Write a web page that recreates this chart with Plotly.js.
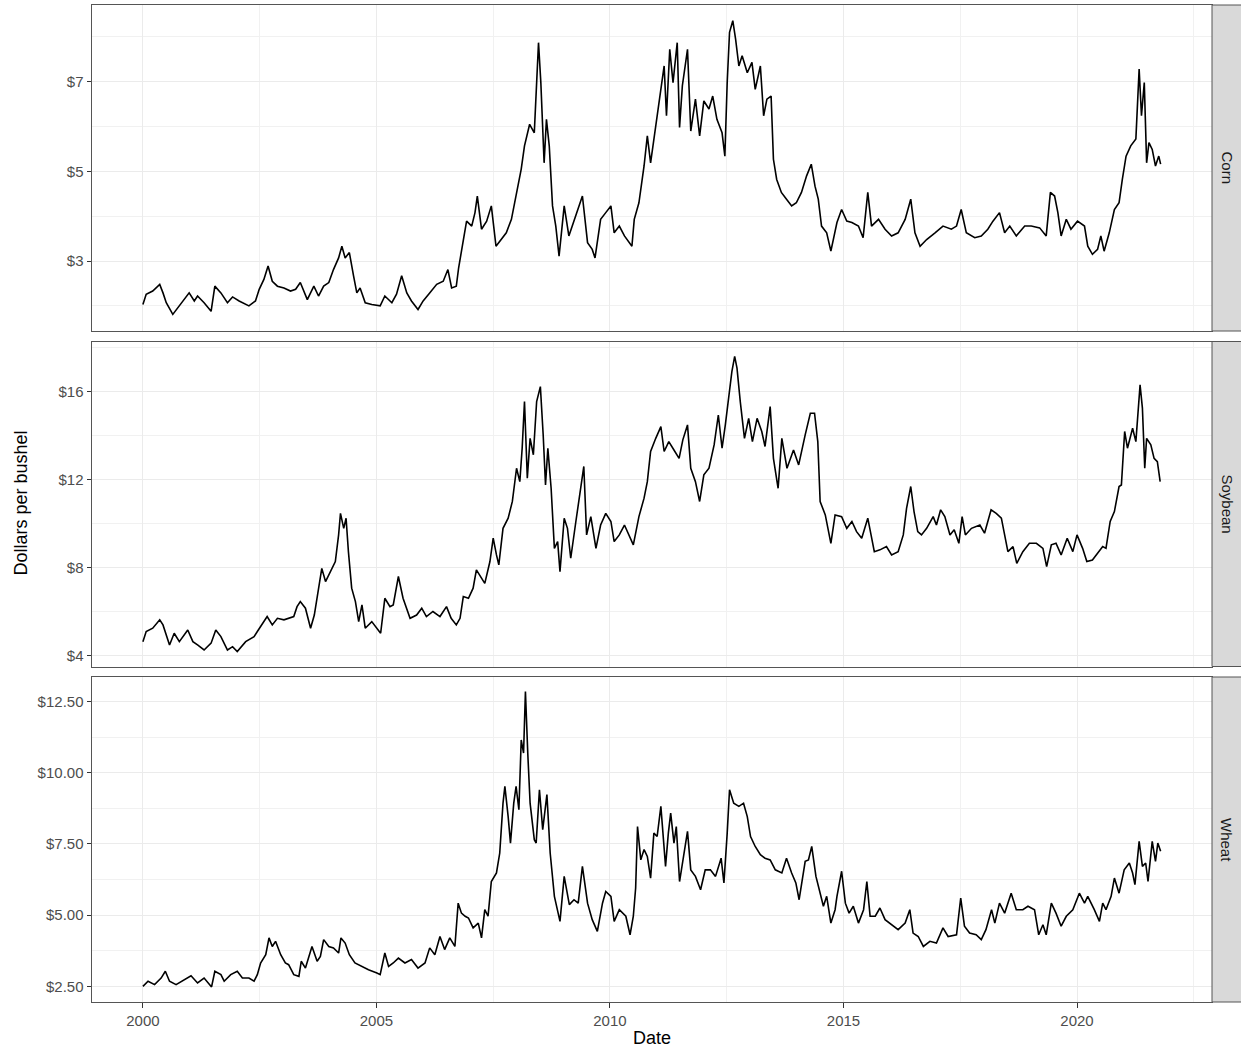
<!DOCTYPE html>
<html>
<head>
<meta charset="utf-8">
<script src="https://cdn.plot.ly/plotly-3.0.1.min.js"></script>
<style>
  html, body { margin: 0; padding: 0; background: #ffffff; }
  #chart { width: 1241px; height: 1051px; }
</style>
</head>
<body>
<div id="chart"></div>
<script>
// ---------------- DATA (decimal years, dollars per bushel) ----------------
const panelNames = ["Corn", "Soybean", "Wheat"];

const cornYears = [2000.00,2000.07,2000.21,2000.36,2000.43,2000.50,2000.64,2000.75,2000.85,2000.99,2001.10,2001.17,2001.31,2001.46,2001.54,2001.67,2001.81,2001.92,2002.06,2002.27,2002.41,2002.49,2002.59,2002.68,2002.77,2002.88,2003.02,2003.16,2003.27,2003.37,2003.52,2003.66,2003.76,2003.87,2003.98,2004.08,2004.19,2004.26,2004.33,2004.42,2004.51,2004.58,2004.65,2004.76,2004.90,2005.08,2005.18,2005.33,2005.43,2005.54,2005.65,2005.75,2005.89,2006.00,2006.14,2006.29,2006.43,2006.53,2006.61,2006.71,2006.76,2006.86,2006.93,2007.04,2007.11,2007.16,2007.25,2007.36,2007.46,2007.56,2007.68,2007.78,2007.89,2008.00,2008.10,2008.17,2008.28,2008.38,2008.43,2008.47,2008.52,2008.59,2008.64,2008.70,2008.77,2008.84,2008.91,2009.02,2009.12,2009.27,2009.41,2009.52,2009.62,2009.68,2009.80,2009.91,2010.02,2010.09,2010.20,2010.31,2010.47,2010.52,2010.62,2010.73,2010.80,2010.87,2010.98,2011.09,2011.16,2011.21,2011.28,2011.35,2011.44,2011.49,2011.55,2011.66,2011.73,2011.83,2011.92,2012.01,2012.12,2012.20,2012.29,2012.40,2012.46,2012.51,2012.56,2012.63,2012.69,2012.76,2012.83,2012.94,2013.04,2013.11,2013.22,2013.29,2013.36,2013.45,2013.50,2013.57,2013.67,2013.78,2013.89,2013.99,2014.10,2014.21,2014.31,2014.39,2014.46,2014.53,2014.64,2014.73,2014.86,2014.96,2015.07,2015.18,2015.32,2015.42,2015.52,2015.60,2015.75,2015.89,2016.03,2016.17,2016.32,2016.44,2016.53,2016.64,2016.78,2016.96,2017.13,2017.31,2017.42,2017.52,2017.63,2017.81,2017.95,2018.09,2018.20,2018.34,2018.45,2018.56,2018.70,2018.88,2019.02,2019.20,2019.34,2019.43,2019.52,2019.59,2019.66,2019.77,2019.87,2020.01,2020.16,2020.23,2020.33,2020.44,2020.51,2020.58,2020.69,2020.80,2020.90,2020.97,2021.05,2021.15,2021.26,2021.33,2021.38,2021.44,2021.49,2021.54,2021.61,2021.68,2021.75,2021.79];
const cornPrice = [2.03,2.26,2.33,2.48,2.29,2.07,1.81,1.96,2.11,2.29,2.11,2.22,2.07,1.88,2.44,2.29,2.07,2.20,2.11,2.00,2.11,2.37,2.59,2.89,2.55,2.44,2.40,2.33,2.37,2.52,2.14,2.44,2.22,2.44,2.52,2.81,3.07,3.33,3.07,3.19,2.67,2.29,2.40,2.07,2.03,2.00,2.22,2.07,2.26,2.67,2.29,2.11,1.92,2.11,2.29,2.48,2.55,2.81,2.40,2.44,2.85,3.48,3.89,3.78,4.08,4.45,3.71,3.89,4.23,3.33,3.48,3.63,3.93,4.53,5.05,5.57,6.05,5.86,6.98,7.87,6.98,5.19,6.16,5.57,4.23,3.78,3.11,4.23,3.56,4.00,4.45,3.41,3.26,3.07,3.93,4.08,4.23,3.63,3.78,3.56,3.33,3.93,4.30,5.12,5.79,5.19,6.01,6.76,7.35,6.24,7.72,6.98,7.87,5.98,6.91,7.72,5.90,6.61,5.79,6.57,6.39,6.68,6.16,5.86,5.34,6.98,8.10,8.36,7.95,7.35,7.58,7.20,7.43,6.83,7.35,6.24,6.61,6.68,5.27,4.82,4.53,4.38,4.23,4.30,4.53,4.90,5.16,4.67,4.38,3.78,3.63,3.22,3.86,4.15,3.89,3.86,3.78,3.52,4.53,3.78,3.93,3.71,3.56,3.63,3.93,4.38,3.63,3.33,3.48,3.63,3.78,3.71,3.78,4.15,3.63,3.52,3.56,3.71,3.89,4.08,3.63,3.78,3.56,3.78,3.78,3.74,3.56,4.53,4.45,4.08,3.56,3.93,3.71,3.89,3.78,3.33,3.15,3.26,3.56,3.22,3.63,4.15,4.30,4.82,5.34,5.57,5.72,7.28,6.24,6.98,5.19,5.64,5.49,5.12,5.34,5.16];

const soyYears = [2000.00,2000.07,2000.21,2000.36,2000.43,2000.57,2000.67,2000.78,2000.96,2001.07,2001.17,2001.31,2001.46,2001.56,2001.67,2001.81,2001.92,2002.02,2002.20,2002.38,2002.45,2002.56,2002.66,2002.77,2002.88,2003.02,2003.23,2003.30,2003.37,2003.48,2003.59,2003.67,2003.76,2003.83,2003.91,2004.01,2004.12,2004.19,2004.23,2004.30,2004.35,2004.40,2004.47,2004.55,2004.62,2004.69,2004.76,2004.90,2005.01,2005.09,2005.18,2005.29,2005.36,2005.47,2005.57,2005.72,2005.86,2005.97,2006.07,2006.21,2006.36,2006.50,2006.60,2006.71,2006.79,2006.86,2006.97,2007.07,2007.14,2007.25,2007.32,2007.43,2007.50,2007.57,2007.62,2007.71,2007.82,2007.91,2008.00,2008.07,2008.12,2008.17,2008.23,2008.29,2008.36,2008.43,2008.51,2008.57,2008.62,2008.67,2008.74,2008.81,2008.88,2008.93,2009.02,2009.09,2009.16,2009.27,2009.36,2009.44,2009.50,2009.59,2009.70,2009.80,2009.91,2010.02,2010.09,2010.20,2010.31,2010.41,2010.50,2010.62,2010.73,2010.80,2010.87,2010.98,2011.09,2011.16,2011.26,2011.37,2011.48,2011.56,2011.66,2011.73,2011.83,2011.92,2012.01,2012.12,2012.23,2012.32,2012.40,2012.47,2012.54,2012.61,2012.67,2012.72,2012.79,2012.88,2012.97,2013.05,2013.15,2013.25,2013.32,2013.43,2013.50,2013.60,2013.68,2013.79,2013.93,2014.04,2014.18,2014.29,2014.38,2014.45,2014.50,2014.61,2014.73,2014.82,2014.96,2015.07,2015.18,2015.28,2015.39,2015.52,2015.59,2015.66,2015.78,2015.92,2016.03,2016.17,2016.28,2016.35,2016.44,2016.51,2016.59,2016.67,2016.78,2016.92,2016.99,2017.08,2017.17,2017.28,2017.37,2017.47,2017.54,2017.61,2017.74,2017.92,2018.02,2018.16,2018.27,2018.38,2018.45,2018.52,2018.63,2018.71,2018.84,2018.98,2019.13,2019.27,2019.35,2019.45,2019.55,2019.66,2019.79,2019.91,2020.00,2020.12,2020.21,2020.33,2020.44,2020.55,2020.62,2020.71,2020.80,2020.90,2020.95,2021.02,2021.08,2021.19,2021.26,2021.31,2021.35,2021.40,2021.45,2021.49,2021.58,2021.65,2021.72,2021.78];
const soyPrice = [4.65,5.11,5.26,5.64,5.41,4.50,5.03,4.65,5.18,4.65,4.50,4.27,4.58,5.18,4.88,4.27,4.42,4.20,4.65,4.88,5.11,5.48,5.79,5.41,5.71,5.64,5.79,6.24,6.47,6.17,5.26,5.86,7.08,7.98,7.38,7.83,8.29,9.50,10.48,9.80,10.26,8.74,7.08,6.47,5.56,6.32,5.26,5.56,5.26,5.03,6.62,6.24,6.32,7.61,6.62,5.71,5.86,6.17,5.79,6.02,5.79,6.24,5.71,5.41,5.71,6.70,6.62,7.08,7.91,7.53,7.30,8.29,9.35,8.59,8.14,9.80,10.26,11.02,12.53,11.92,13.44,15.56,12.08,13.89,13.14,15.56,16.24,14.05,11.77,13.44,11.62,8.89,9.20,7.83,10.26,9.80,8.44,10.11,11.47,12.61,9.50,10.33,8.89,9.95,10.48,10.11,9.20,9.50,9.95,9.50,9.05,10.33,11.17,11.92,13.29,13.89,14.42,13.29,13.74,13.36,12.98,13.82,14.50,12.53,11.92,11.02,12.23,12.53,13.59,14.95,13.44,14.50,15.71,16.92,17.61,17.08,15.56,13.89,14.80,13.74,14.80,14.20,13.52,15.33,12.98,11.62,13.89,12.53,13.36,12.68,14.05,15.03,15.03,13.74,11.02,10.41,9.12,10.41,10.33,9.80,10.11,9.65,9.35,10.26,9.50,8.74,8.82,8.97,8.59,8.74,9.50,10.71,11.70,10.56,9.65,9.50,9.80,10.33,9.95,10.64,10.33,9.50,9.73,9.12,10.33,9.50,9.80,9.95,9.58,10.64,10.48,10.26,9.50,8.74,8.97,8.21,8.74,9.12,9.12,8.89,8.06,9.05,9.12,8.59,9.35,8.74,9.50,8.89,8.29,8.36,8.67,8.97,8.89,10.11,10.56,11.70,11.77,14.20,13.44,14.35,13.74,15.11,16.32,15.26,12.53,13.89,13.59,12.98,12.83,11.92];

const wheatYears = [2000.00,2000.11,2000.25,2000.39,2000.48,2000.57,2000.71,2000.89,2001.03,2001.17,2001.31,2001.47,2001.54,2001.67,2001.74,2001.88,2002.02,2002.13,2002.27,2002.38,2002.45,2002.52,2002.63,2002.70,2002.77,2002.84,2002.95,2003.05,2003.12,2003.23,2003.34,2003.39,2003.48,2003.62,2003.73,2003.80,2003.87,2003.98,2004.08,2004.19,2004.24,2004.33,2004.42,2004.54,2004.69,2004.83,2005.01,2005.08,2005.18,2005.26,2005.36,2005.47,2005.61,2005.75,2005.89,2006.04,2006.14,2006.25,2006.36,2006.46,2006.57,2006.68,2006.75,2006.82,2006.90,2006.97,2007.07,2007.18,2007.25,2007.32,2007.39,2007.46,2007.57,2007.64,2007.71,2007.75,2007.82,2007.87,2007.94,2007.99,2008.05,2008.10,2008.15,2008.19,2008.24,2008.29,2008.38,2008.42,2008.49,2008.56,2008.65,2008.72,2008.81,2008.93,2009.02,2009.13,2009.23,2009.32,2009.41,2009.52,2009.62,2009.73,2009.84,2009.91,2010.02,2010.09,2010.20,2010.34,2010.43,2010.50,2010.55,2010.59,2010.66,2010.73,2010.80,2010.87,2010.94,2011.01,2011.09,2011.19,2011.25,2011.30,2011.37,2011.42,2011.49,2011.56,2011.66,2011.73,2011.83,2011.94,2012.04,2012.15,2012.26,2012.38,2012.44,2012.51,2012.56,2012.65,2012.76,2012.86,2012.94,2013.01,2013.11,2013.22,2013.32,2013.43,2013.54,2013.68,2013.78,2013.89,2013.98,2014.05,2014.18,2014.25,2014.32,2014.41,2014.50,2014.57,2014.64,2014.73,2014.82,2014.86,2014.96,2015.04,2015.12,2015.21,2015.32,2015.43,2015.50,2015.57,2015.68,2015.78,2015.89,2016.03,2016.17,2016.32,2016.42,2016.49,2016.60,2016.71,2016.85,2016.99,2017.13,2017.24,2017.42,2017.51,2017.59,2017.70,2017.84,2017.95,2018.05,2018.17,2018.24,2018.34,2018.45,2018.59,2018.70,2018.84,2018.95,2019.09,2019.18,2019.27,2019.34,2019.45,2019.55,2019.66,2019.77,2019.91,2020.05,2020.16,2020.23,2020.37,2020.48,2020.55,2020.62,2020.73,2020.80,2020.90,2021.01,2021.12,2021.19,2021.24,2021.33,2021.40,2021.47,2021.52,2021.58,2021.61,2021.68,2021.73,2021.79];
const wheatPrice = [2.50,2.68,2.56,2.79,3.03,2.68,2.56,2.73,2.87,2.62,2.79,2.48,3.03,2.91,2.68,2.91,3.03,2.79,2.79,2.68,2.91,3.32,3.61,4.20,3.90,4.08,3.61,3.32,3.26,2.91,2.85,3.38,3.14,3.90,3.38,3.55,4.14,3.90,3.85,3.67,4.20,4.02,3.61,3.32,3.20,3.08,2.97,2.91,3.67,3.20,3.32,3.49,3.32,3.44,3.14,3.32,3.85,3.61,4.25,3.79,4.20,3.90,5.42,5.07,4.96,4.90,4.55,4.72,4.20,5.19,4.96,6.18,6.48,7.18,8.93,9.52,8.46,7.53,8.93,9.52,8.70,11.15,10.69,12.85,10.69,8.93,7.65,7.53,9.40,8.00,9.23,7.18,5.66,4.78,6.36,5.37,5.54,5.42,6.71,5.42,4.84,4.43,5.42,5.83,5.66,4.78,5.19,4.96,4.31,4.96,5.95,8.11,6.94,7.30,7.06,6.30,7.88,7.76,8.82,6.71,7.88,8.58,7.53,8.11,6.18,6.89,7.94,6.59,6.36,5.89,6.59,6.59,6.36,7.00,6.13,7.88,9.40,8.93,8.82,8.93,8.46,7.76,7.41,7.12,7.00,6.94,6.59,6.48,7.00,6.48,6.13,5.54,6.89,6.94,7.41,6.36,5.78,5.31,5.66,4.72,5.19,5.66,6.54,5.42,5.07,5.31,4.72,5.19,6.18,4.96,4.96,5.25,4.84,4.66,4.49,4.72,5.19,4.37,4.25,3.90,4.08,4.02,4.55,4.25,4.31,5.60,4.61,4.37,4.31,4.14,4.49,5.19,4.72,5.42,5.07,5.77,5.19,5.19,5.31,5.19,4.31,4.66,4.31,5.42,5.07,4.61,4.96,5.19,5.77,5.42,5.66,5.19,4.78,5.42,5.19,5.66,6.30,5.77,6.59,6.83,6.48,6.07,7.59,6.71,6.83,6.18,7.30,7.59,6.89,7.53,7.24];

// ---------------- LAYOUT ----------------
const W = 1241, H = 1051;
const M = { l: 92, r: 29, t: 5, b: 49 };
const plotH = H - M.t - M.b;           // 997
const plotW = W - M.l - M.r;           // 1120
const pyTop = px => 1 - (px - M.t) / plotH; // pixel y -> paper y

const domains = [
  [pyTop(331), pyTop(5)],
  [pyTop(666.5), pyTop(341.5)],
  [pyTop(1002), pyTop(677)]
];

const FONT = "Liberation Sans, Arial, Helvetica, sans-serif";
const GRID = "#ebebeb";
const GRID_MINOR = "#f1f1f1";
const BORDER = "#555555";

const yConf = [
  { range: [1.44, 8.71], tick0: 3, dtick: 2, minor: 1, fmt: "d" },
  { range: [3.52, 18.29], tick0: 0, dtick: 4, minor: 2, fmt: "d" },
  { range: [1.95, 13.36], tick0: 0, dtick: 2.5, minor: 1.25, fmt: ".2f" }
];

const series = [
  [cornYears, cornPrice],
  [soyYears, soyPrice],
  [wheatYears, wheatPrice]
];

const traces = series.map((s, i) => ({
  type: "scatter",
  mode: "lines",
  x: s[0],
  y: s[1],
  xaxis: i === 0 ? "x" : "x" + (i + 1),
  yaxis: i === 0 ? "y" : "y" + (i + 1),
  line: { color: "#000000", width: 1.6 },
  hoverinfo: "skip",
  showlegend: false
}));

const layout = {
  width: W, height: H,
  margin: M,
  paper_bgcolor: "#ffffff",
  plot_bgcolor: "#ffffff",
  font: { family: FONT, size: 15, color: "#4d4d4d" },
  showlegend: false,
  hovermode: false,
  shapes: [],
  annotations: []
};

for (let i = 0; i < 3; i++) {
  const sx = i === 0 ? "" : String(i + 1);
  const isBottom = i === 2;
  layout["xaxis" + sx] = {
    domain: [0, 1],
    anchor: "y" + sx,
    range: [1998.91, 2022.89],
    tickmode: "linear", tick0: 2000, dtick: 5,
    tickformat: "d",
    showticklabels: isBottom,
    ticks: isBottom ? "outside" : "",
    ticklen: 4.5, tickwidth: 1, tickcolor: "#333333",
    tickfont: { family: FONT, size: 15, color: "#4d4d4d" },
    showgrid: true, gridcolor: GRID, gridwidth: 1,
    minor: { tickmode: "linear", tick0: 2002.5, dtick: 5, showgrid: true, gridcolor: GRID_MINOR, gridwidth: 1, ticks: "" },
    zeroline: false,
    showline: true, mirror: true, linecolor: BORDER, linewidth: 1,
    fixedrange: true
  };
  if (i > 0) layout["xaxis" + sx].matches = "x";
  const c = yConf[i];
  layout["yaxis" + sx] = {
    domain: domains[i],
    anchor: "x" + sx,
    range: c.range,
    tickmode: "linear", tick0: c.tick0, dtick: c.dtick,
    tickprefix: "$", tickformat: c.fmt,
    ticks: "outside", ticklen: 4.5, tickwidth: 1, tickcolor: "#333333",
    tickfont: { family: FONT, size: 15, color: "#4d4d4d" },
    showgrid: true, gridcolor: GRID, gridwidth: 1,
    minor: { tickmode: "linear", tick0: c.tick0 + c.minor, dtick: c.dtick, showgrid: true, gridcolor: GRID_MINOR, gridwidth: 1, ticks: "" },
    zeroline: false,
    showline: true, mirror: true, linecolor: BORDER, linewidth: 1,
    fixedrange: true
  };

  // facet strip on the right
  layout.shapes.push({
    type: "rect", xref: "paper", yref: "paper",
    x0: 1, x1: 1 + (M.r + 2) / plotW,
    y0: domains[i][0], y1: domains[i][1],
    fillcolor: "#d9d9d9",
    line: { color: BORDER, width: 1 },
    layer: "above"
  });
  layout.annotations.push({
    xref: "paper", yref: "paper",
    x: 1 + 14.5 / plotW, y: (domains[i][0] + domains[i][1]) / 2,
    xanchor: "center", yanchor: "middle",
    text: panelNames[i], textangle: 90, showarrow: false,
    font: { family: FONT, size: 15, color: "#1a1a1a" }
  });
}

// axis titles
layout.annotations.push({
  xref: "paper", yref: "paper",
  x: 0.5, y: -(1038 - 1002) / plotH,
  xanchor: "center", yanchor: "middle",
  text: "Date", showarrow: false,
  font: { family: FONT, size: 18, color: "#000000" }
});
layout.annotations.push({
  xref: "paper", yref: "paper",
  x: (20 - M.l) / plotW, y: 1 - (503.5 - M.t) / plotH,
  xanchor: "center", yanchor: "middle",
  text: "Dollars per bushel", textangle: -90, showarrow: false,
  font: { family: FONT, size: 18, color: "#000000" }
});

Plotly.newPlot("chart", traces, layout, { displayModeBar: false, staticPlot: true });
</script>
</body>
</html>
